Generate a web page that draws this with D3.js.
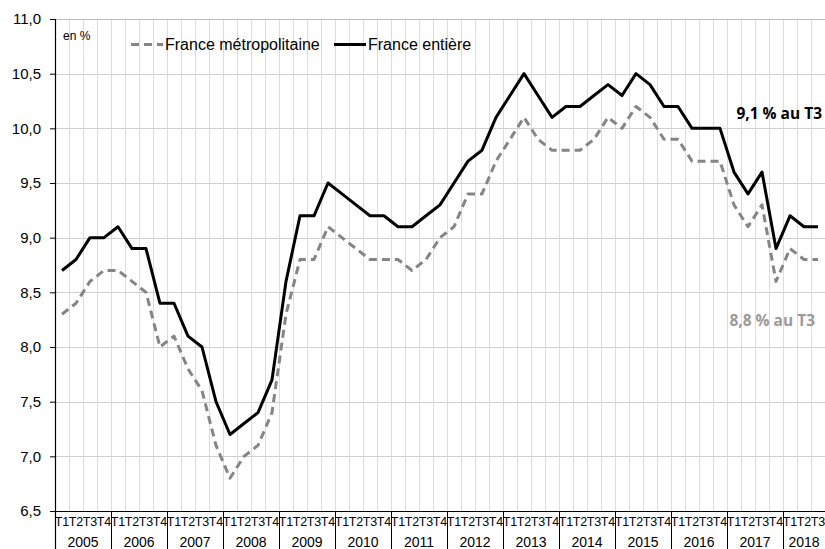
<!DOCTYPE html>
<html>
<head>
<meta charset="utf-8">
<script src="https://cdn.jsdelivr.net/npm/d3@7"></script>
<style>
  body { margin: 0; background: #fff; }
  svg { display: block; font-family: "Liberation Sans", Arial, sans-serif; }
</style>
</head>
<body>
<div id="chart"></div>
<script>
// Taux de chômage trimestriel, 2005 T1 - 2018 T3
const years = [2005, 2006, 2007, 2008, 2009, 2010, 2011, 2012, 2013, 2014, 2015, 2016, 2017, 2018];
const quarters = ['T1', 'T2', 'T3', 'T4'];

const franceEntiere = [
  8.7, 8.8, 9.0, 9.0,
  9.1, 8.9, 8.9, 8.4,
  8.4, 8.1, 8.0, 7.5,
  7.2, 7.3, 7.4, 7.7,
  8.6, 9.2, 9.2, 9.5,
  9.4, 9.3, 9.2, 9.2,
  9.1, 9.1, 9.2, 9.3,
  9.5, 9.7, 9.8, 10.1,
  10.3, 10.5, 10.3, 10.1,
  10.2, 10.2, 10.3, 10.4,
  10.3, 10.5, 10.4, 10.2,
  10.2, 10.0, 10.0, 10.0,
  9.6, 9.4, 9.6, 8.9,
  9.2, 9.1, 9.1
];

const franceMetro = [
  8.3, 8.4, 8.6, 8.7,
  8.7, 8.6, 8.5, 8.0,
  8.1, 7.8, 7.6, 7.1,
  6.8, 7.0, 7.1, 7.4,
  8.3, 8.8, 8.8, 9.1,
  9.0, 8.9, 8.8, 8.8,
  8.8, 8.7, 8.8, 9.0,
  9.1, 9.4, 9.4, 9.7,
  9.9, 10.1, 9.9, 9.8,
  9.8, 9.8, 9.9, 10.1,
  10.0, 10.2, 10.1, 9.9,
  9.9, 9.7, 9.7, 9.7,
  9.3, 9.1, 9.3, 8.6,
  8.9, 8.8, 8.8
];

const yTicks = [6.5, 7.0, 7.5, 8.0, 8.5, 9.0, 9.5, 10.0, 10.5, 11.0];

const width = 825;
const height = 549;
const plotLeft = 55, plotRight = 825, plotTop = 19, plotBottom = 511;

// liste des trimestres (année + trimestre)
const periods = [];
years.forEach(yr => quarters.forEach(q => periods.push({ year: yr, q: q, key: yr + q })));
periods.length = franceEntiere.length;

const svg = d3.select('#chart')
  .append('svg')
  .attr('width', width)
  .attr('height', height);

const x = d3.scaleBand()
  .domain(periods.map(d => d.key))
  .range([plotLeft, plotRight]);

const y = d3.scaleLinear()
  .domain([6.5, 11])
  .range([plotBottom, plotTop]);

const cx = k => x(k) + x.bandwidth() / 2;

// grille verticale (limites des trimestres)
svg.append('g')
  .selectAll('line')
  .data(periods.slice(1))
  .enter()
  .append('line')
  .attr('x1', d => x(d.key) + 0.5)
  .attr('x2', d => x(d.key) + 0.5)
  .attr('y1', plotTop)
  .attr('y2', plotBottom)
  .attr('stroke', '#dcdcdc')
  .attr('stroke-width', 1);

// grille horizontale
svg.append('g')
  .selectAll('line')
  .data(yTicks.slice(1))
  .enter()
  .append('line')
  .attr('x1', plotLeft)
  .attr('x2', plotRight)
  .attr('y1', d => Math.round(y(d)) + 0.5)
  .attr('y2', d => Math.round(y(d)) + 0.5)
  .attr('stroke', d => d === 11 ? '#bcbcbc' : '#d0d0d0')
  .attr('stroke-width', 1);

// axe Y
const yAxis = svg.append('g')
  .attr('transform', `translate(${plotLeft},0)`)
  .call(d3.axisLeft(y)
    .tickValues(yTicks)
    .tickSize(5)
    .tickPadding(9)
    .tickFormat(d => d3.format('.1f')(d).replace('.', ',')));
yAxis.select('.domain').remove();
yAxis.selectAll('.tick line').attr('stroke', '#000');
yAxis.selectAll('text')
  .attr('font-size', '15px')
  .attr('font-family', '"Liberation Sans", Arial, sans-serif')
  .attr('fill', '#000');

svg.append('line')
  .attr('x1', plotLeft + 0.5).attr('x2', plotLeft + 0.5)
  .attr('y1', plotTop).attr('y2', height)
  .attr('stroke', '#000')
  .attr('stroke-width', 1.2);

// axe X : trimestres
const xAxis = svg.append('g')
  .attr('transform', `translate(0,${plotBottom})`)
  .call(d3.axisBottom(x)
    .tickSize(0)
    .tickPadding(6)
    .tickFormat(k => periods.find(p => p.key === k).q));
xAxis.select('.domain')
  .attr('stroke', '#000')
  .attr('stroke-width', 1.2);
xAxis.selectAll('text')
  .attr('font-size', '12.5px')
  .attr('font-family', '"Liberation Sans", Arial, sans-serif')
  .attr('fill', '#000');

// séparateurs d'années
svg.append('g')
  .selectAll('line')
  .data(years.slice(1))
  .enter()
  .append('line')
  .attr('x1', d => x(d + 'T1') + 0.5)
  .attr('x2', d => x(d + 'T1') + 0.5)
  .attr('y1', plotBottom)
  .attr('y2', height)
  .attr('stroke', '#000')
  .attr('stroke-width', 1);

// libellés des années
svg.append('g')
  .selectAll('text')
  .data(years)
  .enter()
  .append('text')
  .attr('x', d => {
    const ks = periods.filter(p => p.year === d);
    return (x(ks[0].key) + x(ks[ks.length - 1].key) + x.bandwidth()) / 2;
  })
  .attr('y', 547)
  .attr('text-anchor', 'middle')
  .attr('font-size', '14px')
  .text(d => d);

// courbes
const line = d3.line()
  .x((d, i) => cx(periods[i].key))
  .y(d => y(d));

svg.append('path')
  .datum(franceMetro)
  .attr('d', line)
  .attr('fill', 'none')
  .attr('stroke', '#858585')
  .attr('stroke-width', 3)
  .attr('stroke-dasharray', '8,5')
  .attr('stroke-linejoin', 'round');

svg.append('path')
  .datum(franceEntiere)
  .attr('d', line)
  .attr('fill', 'none')
  .attr('stroke', '#000')
  .attr('stroke-width', 3)
  .attr('stroke-linejoin', 'round');

// légende
svg.append('text')
  .attr('x', 63).attr('y', 40)
  .attr('font-size', '12px')
  .text('en %');

const legend = [
  { name: 'France métropolitaine', color: '#858585', dash: '8,5', x: 131 },
  { name: 'France entière', color: '#000', dash: null, x: 334 }
];
const lg = svg.append('g').selectAll('g').data(legend).enter().append('g');
lg.append('line')
  .attr('x1', d => d.x).attr('x2', d => d.x + 32)
  .attr('y1', 44.5).attr('y2', 44.5)
  .attr('stroke', d => d.color)
  .attr('stroke-width', 3)
  .attr('stroke-dasharray', d => d.dash);
lg.append('text')
  .attr('x', d => d.x + 34).attr('y', 50)
  .attr('font-size', '16px')
  .text(d => d.name);

// annotations
const last = periods[periods.length - 1].key;
svg.append('text')
  .attr('x', cx(last) + 4).attr('y', y(10.0) - 9)
  .attr('text-anchor', 'end')
  .attr('font-family', '"Open Sans", sans-serif')
  .attr('font-weight', 'bold')
  .attr('font-size', '15.5px')
  .attr('fill', '#000')
  .text('9,1 % au T3');
svg.append('text')
  .attr('x', cx(last) - 3).attr('y', y(8.0) - 21)
  .attr('text-anchor', 'end')
  .attr('font-family', '"Open Sans", sans-serif')
  .attr('font-weight', 'bold')
  .attr('font-size', '15.5px')
  .attr('fill', '#9a9a9a')
  .text('8,8 % au T3');
</script>
</body>
</html>
